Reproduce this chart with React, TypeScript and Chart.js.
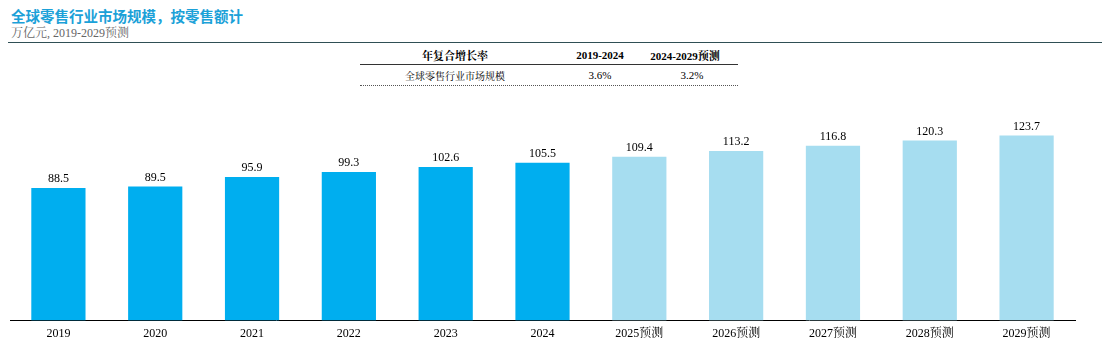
import React, { useEffect, useRef } from "react";
import { Chart, registerables } from "chart.js";

Chart.register(...registerables);

const categories = ["2019", "2020", "2021", "2022", "2023", "2024", "2025预测", "2026预测", "2027预测", "2028预测", "2029预测"];
const values = [88.5, 89.5, 95.9, 99.3, 102.6, 105.5, 109.4, 113.2, 116.8, 120.3, 123.7];
const forecastFlags = [false, false, false, false, false, false, true, true, true, true, true];
const tableHeader = ["年复合增长率", "2019-2024", "2024-2029预测"];
const tableRow = ["全球零售行业市场规模", "3.6%", "3.2%"];

const SERIF = "'Times New Roman', 'Liberation Serif', 'Noto Serif CJK SC', 'Noto Sans CJK SC', serif";
const ACTUAL = "#00AEEF";
const FORECAST = "#A6DDF0";

const labelPlugin = {
  id: "barLabels",
  afterDatasetsDraw(chart: any) {
    const ctx = chart.ctx;
    const meta = chart.getDatasetMeta(0);
    ctx.save();
    ctx.font = `12px ${SERIF}`;
    ctx.fillStyle = "#000";
    ctx.textAlign = "center";
    ctx.textBaseline = "bottom";
    meta.data.forEach((el: any, i: number) => {
      ctx.fillText(values[i].toFixed(1), el.x, el.y - 3);
    });
    ctx.restore();
  },
};

export default function App() {
  const ref = useRef<HTMLCanvasElement | null>(null);
  useEffect(() => {
    if (!ref.current) return;
    const chart = new Chart(ref.current, {
      type: "bar",
      data: {
        labels: categories,
        datasets: [
          {
            data: values,
            backgroundColor: forecastFlags.map((f) => (f ? FORECAST : ACTUAL)),
            barPercentage: 0.56,
            categoryPercentage: 1,
          },
        ],
      },
      options: {
        responsive: false,
        animation: false,
        layout: { padding: { left: 10, right: 27, top: 111, bottom: 14 } },
        plugins: { legend: { display: false }, tooltip: { enabled: false } },
        scales: {
          x: {
            grid: { display: false, drawTicks: false },
            border: { display: true, color: "#000", width: 1 },
            ticks: { color: "#000", padding: 6, font: { family: SERIF, size: 12 } },
          },
          y: { display: false, min: 0, max: 140 },
        },
      },
      plugins: [labelPlugin],
    });
    return () => chart.destroy();
  }, []);

  const txt = (s: string, x: number, y: number, extra: any = {}) => (
    <div
      style={{
        position: "absolute",
        left: x,
        top: y,
        transform: "translate(-50%, -50%)",
        whiteSpace: "nowrap",
        fontFamily: SERIF,
        fontSize: 11,
        color: "#000",
        ...extra,
      }}
    >
      {s}
    </div>
  );

  return (
    <div style={{ position: "fixed", left: 0, top: 0, width: 1102, height: 361, background: "#fff", overflow: "hidden" }}>
      <div style={{ position: "absolute", left: 11, top: 7, fontSize: 14.5, fontWeight: "bold", color: "#1BA1D8", fontFamily: "'Noto Sans CJK SC', sans-serif", lineHeight: "18px" }}>
        全球零售行业市场规模，按零售额计
      </div>
      <div style={{ position: "absolute", left: 11, top: 26, fontSize: 12, color: "#666", fontFamily: SERIF, lineHeight: "15px" }}>
        万亿元, 2019-2029预测
      </div>
      <div style={{ position: "absolute", left: 8, top: 42, width: 1094, height: 1, background: "#2F4F55" }} />
      {txt(tableHeader[0], 455, 55, { fontWeight: "bold" })}
      {txt(tableHeader[1], 600, 55, { fontWeight: "bold" })}
      {txt(tableHeader[2], 685, 55, { fontWeight: "bold" })}
      <div style={{ position: "absolute", left: 360, top: 64, width: 378, height: 1, background: "#333" }} />
      {txt(tableRow[0], 455, 75, { fontSize: 10 })}
      {txt(tableRow[1], 600, 75)}
      {txt(tableRow[2], 692, 75)}
      <div style={{ position: "absolute", left: 360, top: 85, width: 378, height: 0, borderTop: "1px dotted #555" }} />
      <canvas ref={ref} width={1102} height={361} style={{ position: "absolute", left: 0, top: 0 }} />
    </div>
  );
}
